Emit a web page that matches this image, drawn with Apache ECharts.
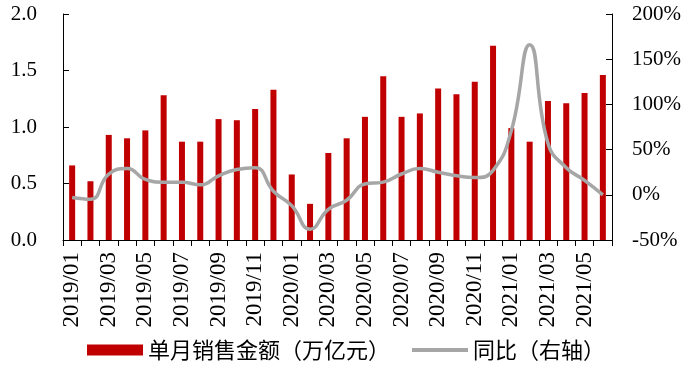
<!DOCTYPE html>
<html><head><meta charset="utf-8">
<script src="https://cdn.jsdelivr.net/npm/echarts@6/dist/echarts.min.js"></script>
<style>html,body{margin:0;padding:0;background:#fff}#c{width:698px;height:376px}</style>
</head><body><div id="c"></div>
<script>
var categories = ['2019/01','2019/02','2019/03','2019/04','2019/05','2019/06','2019/07','2019/08','2019/09','2019/10','2019/11','2019/12',
  '2020/01','2020/02','2020/03','2020/04','2020/05','2020/06','2020/07','2020/08','2020/09','2020/10','2020/11','2020/12',
  '2021/01','2021/02','2021/03','2021/04','2021/05','2021/06'];
var salesValues = [0.66,0.52,0.93,0.90,0.97,1.28,0.87,0.87,1.07,1.06,1.16,1.33,
  0.58,0.32,0.77,0.90,1.09,1.45,1.09,1.12,1.34,1.29,1.40,1.72,
  0.99,0.87,1.23,1.21,1.30,1.46];
var yoyValues = [-3,-5,23,29,17,14,14,11,21,28,30,4,
  -12,-38,-16,-6,12,14,23,29,25,21,19,27,
  71,166,57,30,16,0];
var leftTicks = {min:0, max:2, interval:0.5};
var rightTicks = {min:-50, max:200, interval:50};
var seriesNames = ['单月销售金额（万亿元）','同比（右轴）'];

var serif = '"Liberation Serif","DejaVu Serif",serif';
var cjk = '"Noto Sans CJK SC","Liberation Serif",serif';
var chart = echarts.init(document.getElementById('c'));
chart.setOption({
  animation:false,
  grid:{left:63,right:86,top:14,bottom:136},
  legend:{
    bottom:10,left:82,itemWidth:56,itemHeight:11,itemGap:22,
    textStyle:{fontFamily:cjk,fontSize:22,color:'#000'},
    data:[{name:seriesNames[0],icon:'rect'},{name:seriesNames[1],icon:'path://M0 0H56V4H0Z'}]
  },
  xAxis:{
    type:'category',data:categories,
    axisLine:{lineStyle:{color:'#000',width:1}},
    axisTick:{show:true,interval:0,alignWithLabel:false,length:6,lineStyle:{color:'#000'}},
    axisLabel:{interval:1,rotate:90,fontFamily:serif,fontSize:23,color:'#000',margin:12}
  },
  yAxis:[
    {type:'value',min:leftTicks.min,max:leftTicks.max,interval:leftTicks.interval,
     axisLine:{show:true,lineStyle:{color:'#000'}},
     axisTick:{show:true,inside:true,length:6,lineStyle:{color:'#000'}},
     splitLine:{show:false},
     axisLabel:{formatter:function(v){return v.toFixed(1);},fontFamily:serif,fontSize:21,color:'#000',margin:26}},
    {type:'value',min:rightTicks.min,max:rightTicks.max,interval:rightTicks.interval,
     axisLine:{show:true,lineStyle:{color:'#000'}},
     axisTick:{show:true,inside:true,length:6,lineStyle:{color:'#000'}},
     splitLine:{show:false},
     axisLabel:{formatter:'{value}%',fontFamily:serif,fontSize:21,color:'#000',margin:20}}
  ],
  series:[
    {name:seriesNames[0],type:'bar',data:salesValues,barWidth:6,itemStyle:{color:'#C00000'}},
    {name:seriesNames[1],type:'line',yAxisIndex:1,data:yoyValues,smooth:0.5,symbol:'none',
     lineStyle:{color:'#A6A6A6',width:3.5},itemStyle:{color:'#A6A6A6'}}
  ]
});
</script></body></html>
